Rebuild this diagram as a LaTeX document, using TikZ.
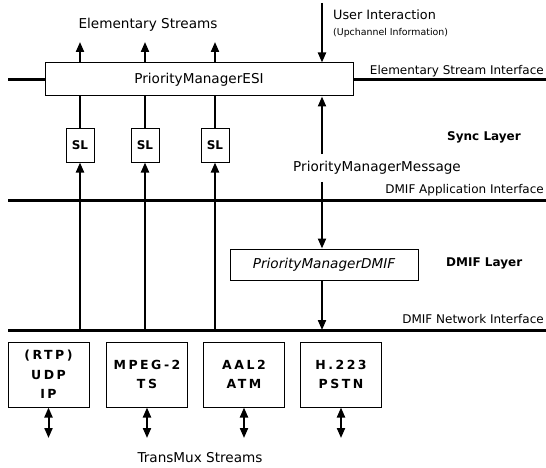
\documentclass[tikz,border=0pt]{standalone}
\usepackage{fontspec}
\setmainfont{DejaVu Sans}
\newfontfamily\boxfont[LetterSpace=20]{DejaVu Sans}
\usetikzlibrary{arrows.meta}
\begin{document}
\begin{tikzpicture}[x=1pt,y=-1pt,
  iface/.style={line width=3pt},
  arr/.style={line width=2pt,-{Triangle[length=10pt,width=8pt]}},
  darr/.style={line width=2pt,{Triangle[length=10pt,width=8pt]}-{Triangle[length=10pt,width=8pt]}},
  plain/.style={line width=2pt},
  boxstyle/.style={draw,line width=1pt,fill=white,inner sep=0pt},
  maintext/.style={font=\fontsize{13.6}{16}\selectfont},
  lbl/.style={inner sep=0pt,font=\fontsize{12}{14}\selectfont},
  laylbl/.style={inner sep=0pt,font=\fontsize{12}{14}\selectfont\bfseries},
  slbox/.style={boxstyle,minimum width=28pt,minimum height=33pt,font=\fontsize{12}{14}\selectfont\bfseries},
  tmbox/.style={boxstyle,minimum width=81pt,minimum height=65pt,align=center,font=\boxfont\fontsize{12.5}{19.5}\selectfont\bfseries}
]
\useasboundingbox (0,0) rectangle (546,468);

% interface lines
\coordinate (esiL) at (8,80);
\coordinate (esiR) at (546,80);
\coordinate (appL) at (8,200);
\coordinate (appR) at (546,200);
\coordinate (netL) at (8,330);
\coordinate (netR) at (546,330);
\draw[iface] (esiL) -- (esiR);
\draw[iface] (appL) -- (appR);
\draw[iface] (netL) -- (netR);

% ESI box
\node[boxstyle,maintext,minimum width=308pt,minimum height=33pt] (esi) at (199,79.5) {PriorityManagerESI};

% SL boxes
\node[slbox] (sl1) at (80,145.5) {SL};
\node[slbox] (sl2) at (145,145.5) {SL};
\node[slbox] (sl3) at (215,145.5) {SL};

% Elementary streams arrows
\coordinate (estop) at (0,42);
\foreach \s in {sl1,sl2,sl3}{
  \draw[arr] (\s |- esi.north) -- (\s |- estop);
  \draw[plain] (\s.north) -- (\s |- esi.south);
  \draw[arr] (\s |- netL) -- (\s.south);
}
\node[maintext,inner sep=0pt] (es) at (148,25) {Elementary Streams};

% user interaction
\coordinate (user) at (322,3);
\draw[arr] (user) -- (user |- esi.north);
\node[anchor=west,inner sep=0pt,font=\fontsize{12.8}{15}\selectfont] (ui) at (333,15) {User Interaction};
\node[anchor=west,inner sep=0pt,font=\fontsize{9.4}{11}\selectfont] (up) at (333,33) {(Upchannel Information)};

% message
\node[maintext,inner xsep=0pt,inner ysep=7pt] (msg) at (377,168) {PriorityManagerMessage};
\node[boxstyle,maintext,minimum width=188pt,minimum height=31pt,font=\fontsize{13.6}{16}\selectfont\itshape] (dmif) at (324,264.5) {PriorityManagerDMIF};
\draw[arr] (user |- msg.north) -- (user |- esi.south);
\draw[arr] (user |- msg.south) -- (user |- dmif.north);
\draw[arr] (user |- dmif.south) -- (user |- netL);

% labels
\node[lbl,anchor=east] (l1) at (544,71) {Elementary Stream Interface};
\node[lbl,anchor=east] (l2) at (544,190) {DMIF Application Interface};
\node[lbl,anchor=east] (l3) at (544,319) {DMIF Network Interface};
\node[laylbl,anchor=west] (sync) at (447,137) {Sync Layer};
\node[laylbl,anchor=west] (dl) at (446,263) {DMIF Layer};

% transmux boxes
\node[tmbox] (b1) at (48.5,374.5) {(RTP)\\UDP\\IP};
\node[tmbox] (b2) at (147,374.5) {MPEG-2\\TS};
\node[tmbox] (b3) at (244,374.5) {AAL2\\ATM};
\node[tmbox] (b4) at (341,374.5) {H.223\\PSTN};
\coordinate (tm) at (0,438);
\foreach \b in {b1,b2,b3,b4}{
  \draw[darr] (\b.south) -- (\b.south |- tm);
}
\node[maintext,inner sep=0pt] (tms) at (200,458) {TransMux Streams};
\end{tikzpicture}
\end{document}
